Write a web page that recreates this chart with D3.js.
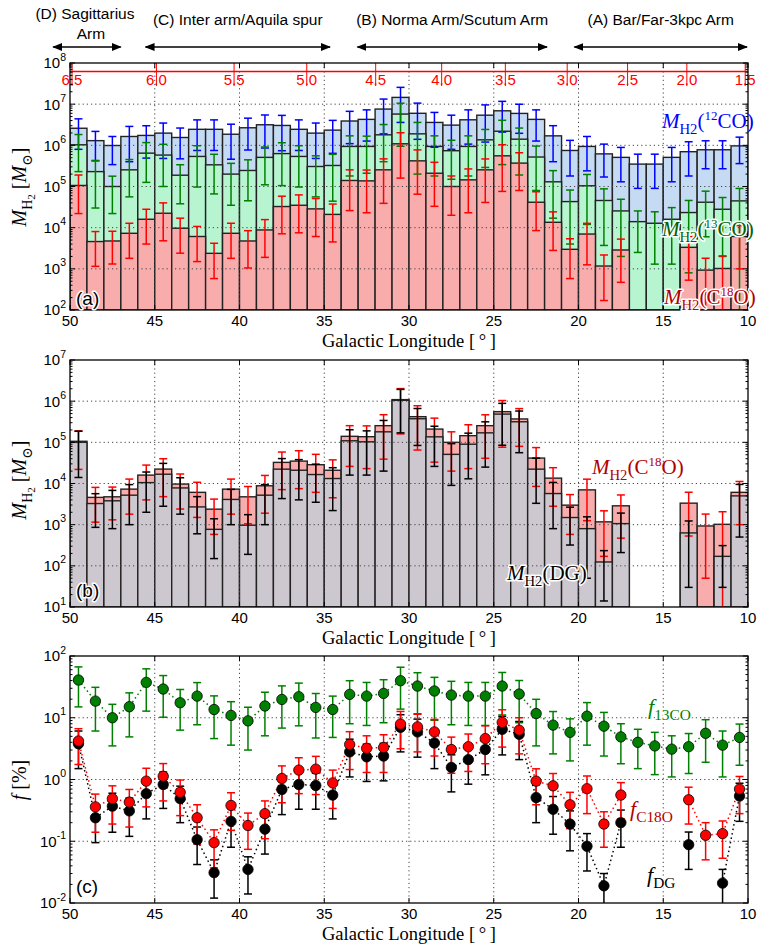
<!DOCTYPE html>
<html>
<head>
<meta charset="utf-8">
<script src="https://cdn.jsdelivr.net/npm/d3@7"></script>
<style>
  body { margin: 0; background: #fff; }
  text { font-family: "Liberation Sans", Arial, sans-serif; }
  .serif { font-family: "Liberation Serif", "DejaVu Serif", serif; }
</style>
</head>
<body>
<svg id="chart" width="757" height="950"></svg>
<script>
// bin centres (galactic longitude, deg)
const lon = [49.5,48.5,47.5,46.5,45.5,44.5,43.5,42.5,41.5,40.5,39.5,38.5,37.5,36.5,35.5,34.5,33.5,32.5,31.5,30.5,
             29.5,28.5,27.5,26.5,25.5,24.5,23.5,22.5,21.5,20.5,19.5,18.5,17.5,16.5,15.5,14.5,13.5,12.5,11.5,10.5];

// (a) masses, Msun
const m12co    = [2.6e6,1.3e6,9.9e5,1.64e6,1.74e6,1.98e6,1.55e6,2.45e6,2.45e6,1.86e6,2.67e6,3.16e6,3.04e6,2.45e6,1.98e6,2.34e6,3.9e6,4.27e6,7.6e6,1.46e7,
                  6.0e6,3.6e6,3.1e6,4.17e6,5.4e6,6.9e6,5.96e6,4.27e6,1.7e6,7.5e5,9.4e5,6.2e5,5.1e5,3.5e5,3.5e5,5.1e5,7.0e5,7.8e5,7.8e5,9.7e5];
const m12coErr = [1.8e6,8.8e5,6.5e5,1.24e6,1.25e6,1.5e6,1.08e6,1.7e6,1.7e6,1.4e6,1.9e6,2.3e6,2.3e6,1.7e6,1.5e6,1.7e6,2.8e6,3.0e6,5.7e6,1.1e7,
                  4.6e6,2.7e6,2.3e6,3.1e6,4.2e6,4.8e6,4.0e6,3.0e6,1.3e6,5.7e5,7.0e5,4.5e5,3.8e5,2.6e5,2.6e5,3.8e5,5.2e5,5.1e5,5.1e5,6.1e5];
const m13co    = [1.03e6,2.3e5,1.0e5,2.54e5,6.46e5,5.8e5,1.88e5,5.37e5,3.36e5,2.0e5,2.45e5,5.1e5,6.3e5,5.37e5,3.06e5,3.24e5,9.4e5,9.4e5,1.8e6,5.75e6,
                  1.9e6,9.4e5,7.4e5,9.4e5,1.36e6,2.2e6,1.41e6,5.2e5,1.3e5,4.3e4,1.04e5,4.57e4,2.55e4,1.4e4,1.28e4,1.6e4,2.33e4,4.15e4,2.8e4,4.47e4];
const m13coErr = [8.0e5,2.0e5,7.8e4,1.98e5,5.2e5,4.8e5,1.5e5,4.4e5,2.7e5,1.65e5,2.0e5,4.0e5,5.25e5,4.4e5,2.5e5,2.8e5,7.6e5,7.3e5,1.4e6,4.8e6,
                  1.7e6,7.6e5,5.9e5,7.6e5,1.07e6,1.86e6,1.22e6,4.4e5,1.13e5,3.9e4,9.2e4,4.2e4,2.35e4,1.15e4,1.15e4,1.47e4,2.25e4,3.55e4,2.6e4,4.5e4];
const mc18o    = [1.06e5,4.6e3,4.75e3,7.3e3,1.6e4,2.24e4,9.7e3,6.1e3,2.38e3,7.3e3,4.75e3,8.8e3,3.26e4,3.5e4,2.86e4,2.1e4,1.4e5,1.37e5,2.54e5,1.09e6,
                  4.2e5,2.1e5,1.0e5,1.45e5,2.54e5,5.56e5,3.7e5,4.15e4,1.35e4,2.98e3,7.0e3,1.17e3,2.87e3,null,null,null,3.33e3,9.3e2,1.02e3,6.1e3];
const mc18oErr = [8.4e4,3.45e3,3.44e3,5.5e3,1.2e4,1.76e4,7.3e3,4.6e3,1.8e3,5.5e3,3.7e3,6.9e3,2.55e4,2.75e4,2.25e4,1.65e4,1.14e5,1.14e5,2.15e5,9.3e5,
                  3.55e5,1.77e5,8.0e4,1.22e5,2.13e5,4.8e5,2.9e5,3.3e4,1.07e4,2.4e3,5.75e3,1.0e3,2.4e3,null,null,null,2.8e3,8.8e2,1.04e3,5.1e3];
// (b) dust-derived masses
const mdg      = [1.0e5,3.26e3,3.8e3,5.2e3,1.05e4,1.68e4,7.8e3,2.7e3,7.7e2,4.1e3,9.7e2,5.2e3,2.23e4,2.1e4,1.65e4,1.32e4,1.09e5,1.03e5,1.8e5,1.05e6,
                  3.74e5,1.36e5,5.1e4,9.0e4,1.7e5,4.85e5,3.16e5,2.23e4,5.7e3,1.49e3,8.0e2,1.24e2,1.06e3,null,null,null,6.3e2,null,1.7e2,5.0e3];
const mdgErr   = [8.6e4,2.4e3,3.0e3,4.2e3,8.5e3,1.4e4,6.0e3,2.1e3,6.2e2,3.1e3,7.8e2,4.2e3,1.8e4,1.7e4,1.3e4,1.1e4,9.3e4,8.7e4,1.6e5,8.8e5,
                  2.9e5,1.1e5,4.2e4,7.7e4,1.45e5,4.0e5,2.6e5,1.9e4,4.9e3,1.17e3,7.5e2,1.1e2,8.5e2,null,null,null,6.0e2,null,1.4e2,4.5e3];
// (c) fractions, %
const f13co    = [40.8,18.6,10.0,15.1,37.4,29.2,17.5,22.4,13.6,10.9,8.9,15.5,19.8,21.9,14.7,13.6,23.9,22.4,24.8,39.8,
                  32.6,27.1,23.3,22.4,22.4,32.6,24.2,11.7,7.6,5.8,10.6,7.3,4.9,4.0,3.5,3.1,3.4,5.6,3.6,4.8];
const f13coErr = [25.8,12.5,6.5,10.2,24.6,19,11.2,14.7,9,7.3,5.9,10.4,13,14.5,10,8.8,15.9,14.9,16.5,26,
                  21,18,15.6,14.9,14.9,21.5,15.9,8.2,5.0,3.8,7,4.9,3.1,2.5,2.3,2.0,2.15,3.7,2.5,3.1];
const fc18o    = [4.2,0.36,0.49,0.43,0.94,1.13,0.62,0.24,0.095,0.38,0.18,0.28,1.04,1.42,1.47,0.88,3.7,3.2,3.3,7.9,
                  7.1,5.9,3.06,3.4,4.6,8.4,6.3,0.94,0.79,0.39,0.71,0.19,0.56,null,null,null,0.47,0.125,0.133,0.70];
const fc18oErr = [2.45,0.22,0.30,0.26,0.58,0.68,0.36,0.15,0.058,0.23,0.106,0.17,0.62,0.83,0.9,0.54,2.25,1.9,2.0,4.75,
                  4.3,3.5,1.8,2.05,2.8,5.05,3.7,0.55,0.46,0.23,0.43,0.11,0.33,null,null,null,0.28,0.075,0.08,0.42];
const fdg      = [3.8,0.24,0.37,0.31,0.59,0.83,0.49,0.106,0.031,0.21,0.035,0.157,0.69,0.83,0.80,0.56,2.8,2.33,2.4,7.0,
                  5.9,3.9,1.57,2.1,3.06,6.5,5.4,0.51,0.33,0.19,0.083,0.019,0.20,null,null,null,0.088,null,0.021,0.54];
const fdgErr   = [2.3,0.145,0.23,0.19,0.36,0.49,0.29,0.064,0.019,0.13,0.021,0.095,0.42,0.5,0.47,0.33,1.7,1.4,1.45,4.2,
                  3.6,2.4,0.94,1.26,1.87,4.0,3.3,0.31,0.2,0.12,0.05,0.011,0.12,null,null,null,0.053,null,0.014,0.33];

// top annotations
const armNames  = [["(D) Sagittarius","Arm"],["(C) Inter arm/Aquila spur"],["(B) Norma Arm/Scutum Arm"],["(A) Bar/Far-3kpc Arm"]];
const armRanges = [[51.05,46.95],[45.6,34.6],[33.1,21.8],[20.3,10.0]];
const rTicks = [6.5,6.0,5.5,5.0,4.5,4.0,3.5,3.0,2.5,2.0,1.5];
const R0 = 8.5;
const xTicks = [50,45,40,35,30,25,20,15,10];

const svg = d3.select("#chart");
const x = d3.scaleLinear().domain([50, 10]).range([70, 748]);
const xL = 70, xR = 748;

const ya = d3.scaleLog().domain([1e2, 1e8]).range([310, 63]);
const yb = d3.scaleLog().domain([1e1, 1e7]).range([607, 360]);
const yc = d3.scaleLog().domain([1e-2, 1e2]).range([903, 656]);

// clip paths
const defs = svg.append("defs");
[["clipA", ya], ["clipB", yb], ["clipC", yc]].forEach(([id, y]) => {
  defs.append("clipPath").attr("id", id).append("rect")
    .attr("x", xL).attr("y", y.range()[1]).attr("width", xR - xL).attr("height", y.range()[0] - y.range()[1]);
});
defs.append("marker").attr("id", "arrow").attr("viewBox", "0 0 10 10")
  .attr("refX", 9).attr("refY", 5).attr("markerWidth", 10).attr("markerHeight", 10)
  .attr("markerUnits", "userSpaceOnUse").attr("orient", "auto-start-reverse")
  .append("path").attr("d", "M0,1 L10,5 L0,9 Z").attr("fill", "#000");

function bars(g, y, vals, fill) {
  const base = y.range()[0];
  g.selectAll(null).data(lon.map((c, i) => ({c, v: vals[i]})).filter(d => d.v != null))
    .enter().append("rect")
    .attr("x", d => x(d.c + 0.5))
    .attr("width", d => x(d.c - 0.5) - x(d.c + 0.5))
    .attr("y", d => y(d.v))
    .attr("height", d => base - y(d.v))
    .attr("fill", fill)
    .attr("stroke", "#222")
    .attr("stroke-width", 1.4);
}

function errBars(g, y, vals, errs, color, cap) {
  const ymin = y.domain()[0], base = y.range()[0];
  const data = lon.map((c, i) => ({c, v: vals[i], e: errs[i]})).filter(d => d.v != null);
  const eg = g.append("g").attr("stroke", color).attr("stroke-width", 1.5);
  data.forEach(d => {
    const px = x(d.c);
    const yHi = y(d.v + d.e);
    const lo = d.v - d.e;
    const yLo = lo > ymin ? y(lo) : base + 5;
    eg.append("line").attr("x1", px).attr("x2", px).attr("y1", yHi).attr("y2", yLo);
    eg.append("line").attr("x1", px - cap).attr("x2", px + cap).attr("y1", yHi).attr("y2", yHi);
    if (lo > ymin) eg.append("line").attr("x1", px - cap).attr("x2", px + cap).attr("y1", yLo).attr("y2", yLo);
  });
}

function grid(g, y) {
  const top = y.range()[1], bottom = y.range()[0];
  const gg = g.append("g").attr("stroke", "#444").attr("stroke-width", 1).attr("stroke-dasharray", "1.2,3");
  xTicks.slice(1, -1).forEach(t => gg.append("line").attr("x1", x(t)).attr("x2", x(t)).attr("y1", top).attr("y2", bottom));
  const [d0, d1] = y.domain().map(Math.log10);
  for (let p = d0 + 1; p < d1; p++)
    gg.append("line").attr("x1", xL).attr("x2", xR).attr("y1", y(10 ** p)).attr("y2", y(10 ** p));
}

function frame(y, titleGap) {
  const top = y.range()[1], bottom = y.range()[0];
  const g = svg.append("g");
  const tk = g.append("g").attr("stroke", "#000").attr("stroke-width", 1);
  xTicks.forEach(t => {
    tk.append("line").attr("x1", x(t)).attr("x2", x(t)).attr("y1", bottom).attr("y2", bottom - 5);
    tk.append("line").attr("x1", x(t)).attr("x2", x(t)).attr("y1", top).attr("y2", top + 5);
  });
  const [d0, d1] = y.domain().map(Math.log10);
  for (let p = d0; p <= d1; p++) {
    const py = y(10 ** p);
    tk.append("line").attr("x1", xL).attr("x2", xL + 5).attr("y1", py).attr("y2", py);
    tk.append("line").attr("x1", xR).attr("x2", xR - 5).attr("y1", py).attr("y2", py);
    if (p < d1) for (let m = 2; m <= 9; m++) {
      const my = y(m * 10 ** p);
      tk.append("line").attr("x1", xL).attr("x2", xL + 2.5).attr("y1", my).attr("y2", my);
      tk.append("line").attr("x1", xR).attr("x2", xR - 2.5).attr("y1", my).attr("y2", my);
    }
    const t = g.append("text").attr("x", 66).attr("y", py).attr("dy", "0.36em")
      .attr("text-anchor", "end").attr("font-size", 15).text("10");
    t.append("tspan").attr("dy", "-0.75em").attr("font-size", 10.5).text(p < 0 ? "-" + (-p) : p);
  }
  g.append("rect").attr("x", xL).attr("y", top).attr("width", xR - xL).attr("height", bottom - top)
    .attr("fill", "none").attr("stroke", "#000").attr("stroke-width", 1.3);
  xTicks.forEach(t => g.append("text").attr("x", x(t)).attr("y", bottom + 16)
    .attr("text-anchor", "middle").attr("font-size", 15).text(t));
  g.append("text").attr("class", "serif").attr("x", (xL + xR) / 2).attr("y", bottom + titleGap)
    .attr("text-anchor", "middle").attr("font-size", 18.5).text("Galactic Longitude [\u2009\u00b0\u2009]");
  return g;
}

// rich text helper: parts = [text, kind] where kind in n,i,sub,sub2,sup
function rich(sel, parts, size) {
  const shift = {n: 0, i: 0, sub: 0.28, sub2: 0.45, sup: -0.38};
  const scale = {n: 1, i: 1, sub: 0.7, sub2: 0.55, sup: 0.62};
  let cur = 0;
  parts.forEach(([t, k]) => {
    const target = shift[k] * size;
    sel.append("tspan").attr("dy", target - cur)
      .attr("font-size", size * scale[k])
      .attr("font-style", k === "i" ? "italic" : "normal")
      .text(t);
    cur = target;
  });
}

function halo(sel, w) {
  sel.attr("stroke", "#fff").attr("stroke-width", w).attr("stroke-linejoin", "round").attr("paint-order", "stroke");
}

function yLabel(parts, cy) {
  const t = svg.append("text").attr("class", "serif")
    .attr("transform", `translate(26,${cy}) rotate(-90)`).attr("text-anchor", "middle");
  rich(t, parts, 20);
}

// ---------- top arm annotations ----------
armRanges.forEach((r, i) => {
  const y0 = 47;
  svg.append("line").attr("x1", x(r[0]) + 1).attr("x2", x(r[1]) - 1).attr("y1", y0).attr("y2", y0)
    .attr("stroke", "#000").attr("stroke-width", 1.6)
    .attr("marker-start", "url(#arrow)").attr("marker-end", "url(#arrow)");
  const cx = (x(r[0]) + x(r[1])) / 2;
  const lines = armNames[i];
  if (lines.length === 2) {
    svg.append("text").attr("x", cx - 2).attr("y", 19).attr("text-anchor", "middle").attr("font-size", 15.5).text(lines[0]);
    svg.append("text").attr("x", cx + 4).attr("y", 39).attr("text-anchor", "middle").attr("font-size", 15.5).text(lines[1]);
  } else {
    svg.append("text").attr("x", cx).attr("y", 25).attr("text-anchor", "middle").attr("font-size", 15.5).text(lines[0]);
  }
});

// ---------- panel (a) ----------
const ga = svg.append("g").attr("clip-path", "url(#clipA)");
bars(ga, ya, m12co, "#c5dbf4");
bars(ga, ya, m13co, "#b6f5d0");
bars(ga, ya, mc18o, "#f8acac");
grid(ga, ya);
errBars(ga, ya, m12co, m12coErr, "#0000ff", 4);
errBars(ga, ya, m13co, m13coErr, "#008000", 4);
errBars(ga, ya, mc18o, mc18oErr, "#ff0000", 4);
// red top axis: galactocentric distance
const rg = svg.append("g");
rg.append("line").attr("x1", xL).attr("x2", xR).attr("y1", 71.5).attr("y2", 71.5).attr("stroke", "#ff0000").attr("stroke-width", 1.3);
rTicks.forEach(r => {
  const px = x(Math.asin(r / R0) * 180 / Math.PI);
  rg.append("line").attr("x1", px).attr("x2", px).attr("y1", 63).attr("y2", 86).attr("stroke", "#ff0000").attr("stroke-width", 1);
  rg.append("text").attr("x", px).attr("y", 85).attr("text-anchor", "middle").attr("font-size", 15)
    .attr("fill", "#ff0000").text(r.toFixed(1));
});
frame(ya, 37);
const la1 = svg.append("text").attr("class", "serif").attr("x", 662).attr("y", 128).attr("fill", "#0000ff");
rich(la1, [["M", "i"], ["H2", "sub"], ["(", "n"], ["12", "sup"], ["CO)", "n"]], 21);
const la2 = svg.append("text").attr("class", "serif").attr("x", 662).attr("y", 236).attr("fill", "#006400");
halo(la2, 3);
rich(la2, [["M", "i"], ["H2", "sub"], ["(", "n"], ["13", "sup"], ["CO)", "n"]], 21);
const la3 = svg.append("text").attr("class", "serif").attr("x", 664).attr("y", 304).attr("fill", "#b00000");
halo(la3, 3);
rich(la3, [["M", "i"], ["H2", "sub"], ["(C", "n"], ["18", "sup"], ["O)", "n"]], 21);
halo(svg.append("text").attr("x", 76).attr("y", 305).attr("font-size", 19).text("(a)"), 3);
yLabel([["M", "i"], ["H", "sub"], ["2", "sub2"], [" [", "n"], ["M", "i"], ["\u2299", "sub"], ["]", "n"]], 187);

// ---------- panel (b) ----------
const gb = svg.append("g").attr("clip-path", "url(#clipB)");
bars(gb, yb, mc18o, "#f8acac");
bars(gb, yb, mdg, "#cdc8cf");
grid(gb, yb);
errBars(gb, yb, mc18o, mc18oErr, "#ff0000", 4);
errBars(gb, yb, mdg, mdgErr, "#000", 4);
frame(yb, 37);
const lb1 = svg.append("text").attr("class", "serif").attr("x", 592).attr("y", 474).attr("fill", "#b00000");
rich(lb1, [["M", "i"], ["H2", "sub"], ["(C", "n"], ["18", "sup"], ["O)", "n"]], 21);
const lb2 = svg.append("text").attr("class", "serif").attr("x", 507).attr("y", 580).attr("fill", "#000");
halo(lb2, 3);
rich(lb2, [["M", "i"], ["H2", "sub"], ["(DG)", "n"]], 21);
halo(svg.append("text").attr("x", 76).attr("y", 597).attr("font-size", 19).text("(b)"), 3);
yLabel([["M", "i"], ["H", "sub"], ["2", "sub2"], [" [", "n"], ["M", "i"], ["\u2299", "sub"], ["]", "n"]], 480);

// ---------- panel (c) ----------
const gc = svg.append("g").attr("clip-path", "url(#clipC)");
grid(gc, yc);
const series = [
  {v: f13co, e: f13coErr, color: "#008000"},
  {v: fdg, e: fdgErr, color: "#000000"},
  {v: fc18o, e: fc18oErr, color: "#ff0000"}
];
series.forEach(s => {
  const line = d3.line().defined(d => d.v != null).x(d => x(d.c)).y(d => yc(d.v));
  gc.append("path").datum(lon.map((c, i) => ({c, v: s.v[i]})))
    .attr("d", line).attr("fill", "none").attr("stroke", s.color)
    .attr("stroke-width", 1.5).attr("stroke-dasharray", "1.5,3");
});
series.forEach(s => errBars(gc, yc, s.v, s.e, s.color, 4));
series.forEach(s => {
  gc.selectAll(null).data(lon.map((c, i) => ({c, v: s.v[i]})).filter(d => d.v != null))
    .enter().append("circle")
    .attr("cx", d => x(d.c)).attr("cy", d => yc(d.v)).attr("r", 5.2)
    .attr("fill", s.color).attr("stroke", "#000").attr("stroke-width", 0.8);
});
frame(yc, 37);
const lc1 = svg.append("text").attr("class", "serif").attr("x", 648).attr("y", 714).attr("fill", "#008000");
halo(lc1, 3);
rich(lc1, [["f", "i"], ["13CO", "sub"]], 22);
const lc2 = svg.append("text").attr("class", "serif").attr("x", 630).attr("y", 816).attr("fill", "#b00000");
halo(lc2, 3);
rich(lc2, [["f", "i"], ["C18O", "sub"]], 22);
const lc3 = svg.append("text").attr("class", "serif").attr("x", 647).attr("y", 882).attr("fill", "#000");
halo(lc3, 3);
rich(lc3, [["f", "i"], ["DG", "sub"]], 22);
halo(svg.append("text").attr("x", 76).attr("y", 893).attr("font-size", 19).text("(c)"), 3);
yLabel([["f", "i"], [" [%]", "n"]], 780);
</script>
</body>
</html>
